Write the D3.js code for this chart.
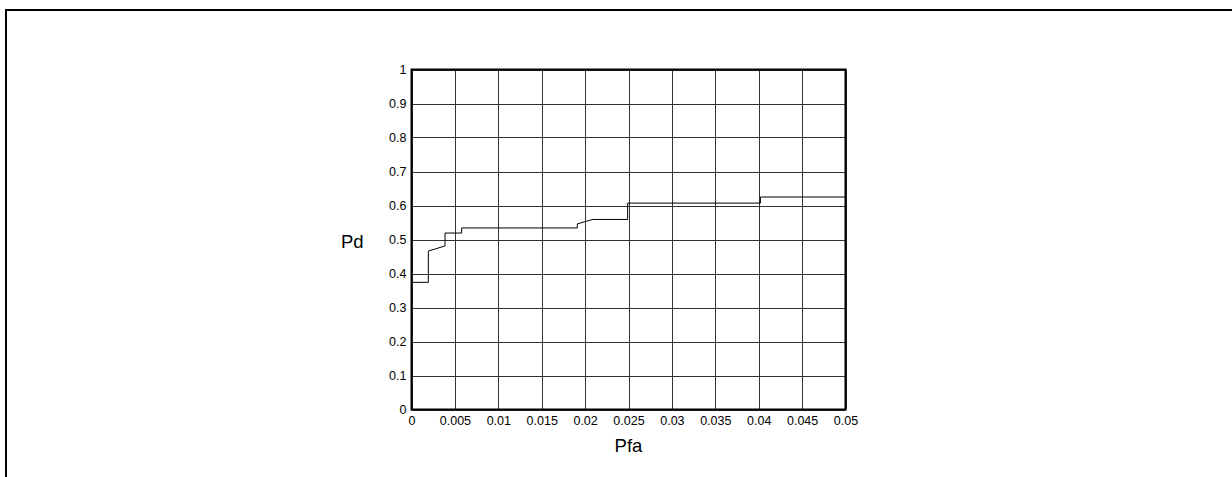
<!DOCTYPE html>
<html>
<head>
<meta charset="utf-8">
<script src="https://cdn.jsdelivr.net/npm/d3@7"></script>
<style>
  html, body { margin: 0; padding: 0; background: #fff; }
  svg { display: block; }
  text { font-family: "Liberation Sans", Arial, sans-serif; fill: #000; }
</style>
</head>
<body>
<svg id="chart" width="1232" height="477"></svg>
<script>
// ROC step curve: false-alarm probability vs detection probability
const pfa = [0, 0.00194, 0.00194, 0.00386, 0.00386, 0.00578, 0.00578, 0.0191, 0.0191, 0.0209, 0.0249, 0.0249, 0.0402, 0.0402, 0.05];
const pd  = [0.374, 0.374, 0.466, 0.481, 0.519, 0.519, 0.534, 0.534, 0.546, 0.559, 0.559, 0.607, 0.607, 0.625, 0.625];

const xTicks = [0, 0.005, 0.01, 0.015, 0.02, 0.025, 0.03, 0.035, 0.04, 0.045, 0.05];
const xTickLabels = ["0", "0.005", "0.01", "0.015", "0.02", "0.025", "0.03", "0.035", "0.04", "0.045", "0.05"];
const yTicks = [0, 0.1, 0.2, 0.3, 0.4, 0.5, 0.6, 0.7, 0.8, 0.9, 1];
const yTickLabels = ["0", "0.1", "0.2", "0.3", "0.4", "0.5", "0.6", "0.7", "0.8", "0.9", "1"];

const svg = d3.select("#chart");

// outer figure border (top and left edges)
svg.append("path")
  .attr("d", "M6,477 V10 H1232")
  .attr("fill", "none")
  .attr("stroke", "#000")
  .attr("stroke-width", 2);

const plotLeft = 411.5, plotRight = 845.5, plotTop = 69.5, plotBottom = 409.5;
const x = d3.scaleLinear().domain([0, 0.05]).range([plotLeft, plotRight]);
const y = d3.scaleLinear().domain([0, 1]).range([plotBottom, plotTop]);

// grid
const grid = svg.append("g").attr("stroke", "#333").attr("stroke-width", 1);
grid.selectAll("line.v").data(xTicks).join("line")
  .attr("class", "v")
  .attr("x1", d => Math.round(x(d)) + 0.5).attr("x2", d => Math.round(x(d)) + 0.5)
  .attr("y1", plotTop).attr("y2", plotBottom);
grid.selectAll("line.h").data(yTicks).join("line")
  .attr("class", "h")
  .attr("y1", d => Math.round(y(d)) + 0.5).attr("y2", d => Math.round(y(d)) + 0.5)
  .attr("x1", plotLeft).attr("x2", plotRight);

// axes with tick labels
const xAxis = d3.axisBottom(x).tickValues(xTicks)
  .tickFormat((d, i) => xTickLabels[i]).tickSize(0).tickPadding(7);
const gx = svg.append("g").attr("transform", `translate(0,${plotBottom})`).call(xAxis);
gx.select(".domain").remove();
gx.selectAll("text").attr("font-size", 12.5).attr("font-family", "Liberation Sans, Arial, sans-serif");

const yAxis = d3.axisLeft(y).tickValues(yTicks)
  .tickFormat((d, i) => yTickLabels[i]).tickSize(0).tickPadding(5);
const gy = svg.append("g").attr("transform", `translate(${plotLeft},0)`).call(yAxis);
gy.select(".domain").remove();
gy.selectAll("text").attr("font-size", 12.5).attr("font-family", "Liberation Sans, Arial, sans-serif");

// axes box
svg.append("rect")
  .attr("x", plotLeft).attr("y", plotTop)
  .attr("width", plotRight - plotLeft).attr("height", plotBottom - plotTop)
  .attr("fill", "none").attr("stroke", "#000").attr("stroke-width", 2);

// curve
const line = d3.line().x((d, i) => x(pfa[i])).y((d, i) => y(pd[i]));
svg.append("path")
  .datum(pfa)
  .attr("d", line)
  .attr("fill", "none")
  .attr("stroke", "#000")
  .attr("stroke-width", 1);

// axis titles
svg.append("text").attr("x", 341).attr("y", 248)
  .attr("font-size", 18.5).text("Pd");
svg.append("text").attr("x", (plotLeft + plotRight) / 2).attr("y", 452)
  .attr("text-anchor", "middle").attr("font-size", 18.5).text("Pfa");
</script>
</body>
</html>
